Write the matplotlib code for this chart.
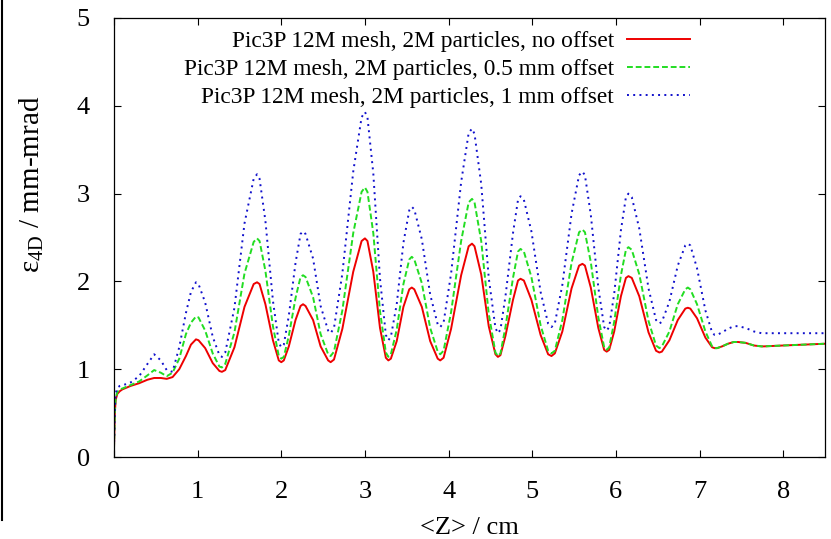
import numpy as np
import matplotlib
matplotlib.use('Agg')
import matplotlib.pyplot as plt
from matplotlib.lines import Line2D

plt.rcParams['font.family'] = ['Liberation Serif', 'DejaVu Serif']
plt.rcParams['mathtext.fontset'] = 'custom'
plt.rcParams['mathtext.rm'] = 'Liberation Serif'
plt.rcParams['mathtext.it'] = 'Liberation Serif:italic'

# <Z> positions (cm), shared by the three runs
z = [0, 0.01, 0.02, 0.04, 0.07, 0.10, 0.15, 0.20, 0.30, 0.40, 0.48, 0.56, 0.63, 0.70, 0.78, 0.86, 0.92,
     0.98, 1.01, 1.09, 1.18, 1.26,
     1.29, 1.33, 1.44, 1.56, 1.67,
     1.71, 1.74, 1.81, 1.90, 1.97,
     2.00, 2.03, 2.09, 2.17, 2.23,
     2.26, 2.29, 2.38, 2.47, 2.56,
     2.59, 2.63, 2.73, 2.86, 2.96,
     3.00, 3.03, 3.10, 3.18, 3.25,
     3.28, 3.31, 3.38, 3.46, 3.53,
     3.56, 3.59, 3.68, 3.78, 3.87,
     3.90, 3.94, 4.03, 4.15, 4.24,
     4.28, 4.31, 4.39, 4.48, 4.56,
     4.59, 4.62, 4.68, 4.77, 4.83,
     4.86, 4.90, 4.99, 5.10, 5.19,
     5.23, 5.27, 5.36, 5.47, 5.56,
     5.60, 5.63, 5.70, 5.79, 5.86,
     5.89, 5.92, 5.98, 6.06, 6.12,
     6.15, 6.19, 6.28, 6.39, 6.48,
     6.52, 6.55, 6.64, 6.74, 6.83,
     6.86, 6.89, 6.97, 7.07, 7.15,
     7.18, 7.21, 7.27, 7.34, 7.41,
     7.43, 7.46, 7.55, 7.65, 7.74,
     7.77, 8.00, 8.25, 8.50]

# emittance, no offset
eps_0 = [0.10, 0.50, 0.65, 0.72, 0.75, 0.77, 0.79, 0.81, 0.84, 0.88, 0.90, 0.90, 0.89, 0.91, 1.00, 1.15, 1.28,
         1.34, 1.33, 1.24, 1.07, 0.98,
         0.97, 0.99, 1.25, 1.71, 1.97,
         1.99, 1.97, 1.74, 1.33, 1.10,
         1.08, 1.10, 1.26, 1.56, 1.72,
         1.74, 1.72, 1.56, 1.26, 1.10,
         1.08, 1.11, 1.46, 2.11, 2.46,
         2.49, 2.46, 2.11, 1.47, 1.13,
         1.10, 1.12, 1.32, 1.71, 1.91,
         1.93, 1.91, 1.71, 1.32, 1.12,
         1.10, 1.13, 1.46, 2.07, 2.40,
         2.43, 2.40, 2.08, 1.49, 1.17,
         1.14, 1.16, 1.38, 1.79, 2.01,
         2.03, 2.01, 1.79, 1.39, 1.17,
         1.15, 1.18, 1.43, 1.92, 2.18,
         2.20, 2.18, 1.93, 1.47, 1.22,
         1.20, 1.22, 1.43, 1.83, 2.04,
         2.06, 2.04, 1.83, 1.42, 1.21,
         1.19, 1.20, 1.33, 1.56, 1.69,
         1.70, 1.69, 1.58, 1.36, 1.25,
         1.24, 1.24, 1.26, 1.29, 1.31,
         1.31, 1.31, 1.30, 1.27, 1.26,
         1.26, 1.27, 1.28, 1.29]

# emittance, 0.5 mm offset
eps_05 = [0.10, 0.52, 0.67, 0.74, 0.77, 0.78, 0.80, 0.82, 0.86, 0.93, 0.99, 0.96, 0.92, 0.96, 1.12, 1.40, 1.53,
          1.60, 1.59, 1.44, 1.18, 1.03,
          1.02, 1.06, 1.42, 2.09, 2.45,
          2.49, 2.46, 2.12, 1.49, 1.15,
          1.12, 1.14, 1.38, 1.81, 2.05,
          2.07, 2.05, 1.82, 1.40, 1.17,
          1.15, 1.20, 1.67, 2.55, 3.02,
          3.07, 3.02, 2.55, 1.66, 1.19,
          1.14, 1.17, 1.45, 1.97, 2.25,
          2.28, 2.25, 1.98, 1.47, 1.20,
          1.17, 1.21, 1.65, 2.46, 2.90,
          2.94, 2.90, 2.46, 1.63, 1.19,
          1.15, 1.18, 1.48, 2.04, 2.34,
          2.37, 2.34, 2.05, 1.50, 1.21,
          1.18, 1.21, 1.56, 2.21, 2.56,
          2.59, 2.56, 2.22, 1.59, 1.25,
          1.22, 1.25, 1.54, 2.07, 2.36,
          2.39, 2.36, 2.08, 1.55, 1.27,
          1.24, 1.26, 1.43, 1.74, 1.91,
          1.93, 1.91, 1.74, 1.43, 1.26,
          1.24, 1.24, 1.26, 1.29, 1.31,
          1.31, 1.31, 1.30, 1.27, 1.26,
          1.26, 1.27, 1.28, 1.29]

# emittance, 1 mm offset
eps_1 = [0.10, 0.55, 0.72, 0.79, 0.81, 0.82, 0.83, 0.85, 0.92, 1.06, 1.17, 1.10, 0.99, 0.97, 1.25, 1.64, 1.88,
         1.99, 1.97, 1.76, 1.37, 1.16,
         1.14, 1.19, 1.70, 2.66, 3.17,
         3.22, 3.17, 2.69, 1.78, 1.30,
         1.25, 1.28, 1.61, 2.21, 2.54,
         2.57, 2.54, 2.26, 1.72, 1.44,
         1.41, 1.47, 2.09, 3.25, 3.87,
         3.93, 3.87, 3.23, 2.03, 1.39,
         1.33, 1.37, 1.74, 2.44, 2.81,
         2.85, 2.82, 2.48, 1.85, 1.51,
         1.48, 1.53, 2.09, 3.13, 3.69,
         3.74, 3.68, 3.11, 2.04, 1.47,
         1.41, 1.45, 1.83, 2.55, 2.93,
         2.97, 2.93, 2.57, 1.88, 1.52,
         1.48, 1.52, 1.96, 2.77, 3.21,
         3.25, 3.21, 2.76, 1.93, 1.48,
         1.44, 1.48, 1.86, 2.58, 2.96,
         3.00, 2.96, 2.60, 1.92, 1.56,
         1.52, 1.54, 1.77, 2.18, 2.41,
         2.43, 2.41, 2.15, 1.67, 1.42,
         1.39, 1.39, 1.42, 1.46, 1.49,
         1.49, 1.49, 1.47, 1.43, 1.41,
         1.41, 1.41, 1.41, 1.41]

labels = ["Pic3P 12M mesh, 2M particles, no offset",
          "Pic3P 12M mesh, 2M particles, 0.5 mm offset",
          "Pic3P 12M mesh, 2M particles, 1 mm offset"]

xticks = [0, 1, 2, 3, 4, 5, 6, 7, 8]
yticks = [0, 1, 2, 3, 4, 5]

fig = plt.figure(figsize=(8.31, 5.39), dpi=100)
ax = fig.add_axes([114/831, 82/539, 711/831, 439/539])

ax.plot(z, eps_0, color='#ee0000', lw=1.4, ls='-', label=labels[0])
ax.plot(z, eps_05, color='#22dd22', lw=1.4, ls=(0, (3, 1.5)), label=labels[1])
ax.plot(z, eps_1, color='#1010cc', lw=1.4, ls=(0, (1, 2.2)), label=labels[2])

ax.set_xlim(0, 8.5)
ax.set_ylim(0, 5)
ax.set_xticks(xticks)
ax.set_yticks(yticks)
ax.tick_params(direction='in', length=5, width=0.8, top=True, right=True, labelsize=19)
ax.tick_params(axis='x', pad=17)
ax.tick_params(axis='y', pad=17.5)
for s in ax.spines.values():
    s.set_linewidth(0.9)

ax.set_xlabel('<Z> / cm', fontsize=19, labelpad=10)
fig.text(32/831, 1 - 184/539, r'ε$_{\rm 4D}$ / mm-mrad', rotation=90,
         ha='center', va='center', fontsize=21)

leg = ax.legend(loc='upper right', bbox_to_anchor=(690/831, 1 - 31/539),
                bbox_transform=fig.transFigure, markerfirst=False, frameon=False,
                fontsize=16.8, handlelength=2.7, handletextpad=0.55,
                labelspacing=0.28, borderpad=0, borderaxespad=0)

# left border line of the original image
fig.add_artist(Line2D([2/831, 2/831], [1 - 520/539, 1], transform=fig.transFigure,
                      color='black', lw=1.5))

fig.savefig('out.png', dpi=100)
